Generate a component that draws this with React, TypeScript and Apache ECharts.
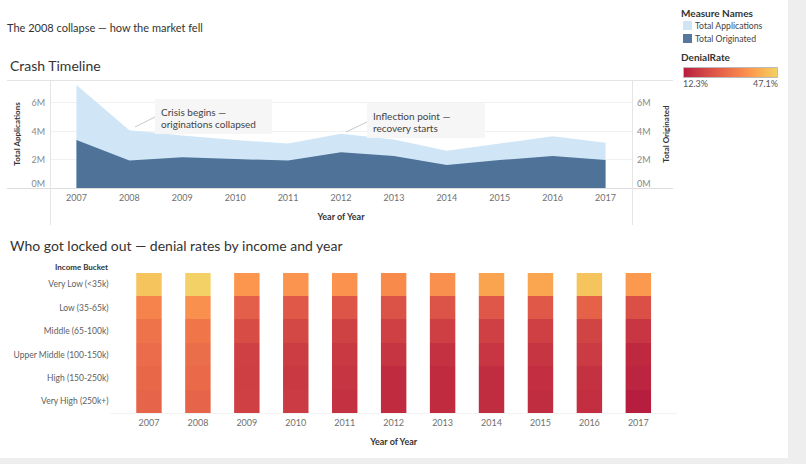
import React, { useEffect, useRef } from "react";
import * as echarts from "echarts";

const years = ["2007", "2008", "2009", "2010", "2011", "2012", "2013", "2014", "2015", "2016", "2017"];
// millions
const totalApplications = [7.25, 4.06, 3.69, 3.37, 3.14, 3.81, 3.41, 2.62, 3.13, 3.64, 3.18];
const totalOriginated = [3.37, 1.93, 2.16, 2.04, 1.93, 2.51, 2.25, 1.62, 1.97, 2.25, 1.97];
const yTickValues = [0, 2, 4, 6];

const incomeBuckets = [
  "Very Low (<35k)",
  "Low (35-65k)",
  "Middle (65-100k)",
  "Upper Middle (100-150k)",
  "High (150-250k)",
  "Very High (250k+)",
];
// denial rate (%) per bucket, by year
const veryLowRates = [44.7, 47.1, 36.7, 36.3, 36.0, 34.6, 35.6, 39.1, 39.4, 44.7, 37.4];
const lowRates = [33.2, 35.6, 25.5, 24.1, 23.4, 22.7, 23.1, 23.8, 24.1, 26.2, 22.4];
const middleRates = [29.7, 30.4, 21.7, 20.3, 19.3, 18.9, 18.6, 18.9, 18.9, 19.6, 16.8];
const upperMiddleRates = [28.3, 28.7, 18.9, 18.2, 17.5, 16.5, 15.8, 16.8, 16.5, 17.9, 14.4];
const highRates = [27.3, 27.6, 18.6, 17.5, 16.5, 14.7, 14.7, 15.1, 15.4, 15.8, 13.7];
const veryHighRates = [26.6, 26.6, 18.9, 17.9, 15.8, 14.7, 14.7, 15.1, 15.1, 15.4, 12.3];
const rateRows = [veryLowRates, lowRates, middleRates, upperMiddleRates, highRates, veryHighRates];
const rateMin = 12.3;
const rateMax = 47.1;

const redGold = ["#b71d3e", "#c43141", "#cf4244", "#db5247", "#e56249", "#ee734a", "#f6834b", "#fc964e", "#f9aa51", "#f6be59", "#f4d166"];

const FONT = 'Lato, "Noto Sans", sans-serif';

export default function App() {
  const ref = useRef<HTMLDivElement>(null);
  useEffect(() => {
    const chart = echarts.init(ref.current!, null, { renderer: "svg" });
    const heatData: number[][] = [];
    rateRows.forEach((row, yi) => row.forEach((v, xi) => heatData.push([xi, yi, v])));

    const txt = (x: number, y: number, text: string, size: number, opts: any = {}) => ({
      type: "text",
      x,
      y,
      z: 100,
      silent: true,
      style: {
        text,
        fill: opts.fill || "#333",
        fontSize: size,
        fontFamily: FONT,
        fontWeight: opts.bold ? "bold" : "normal",
        textAlign: opts.align || "left",
        textVerticalAlign: "middle",
      },
    });
    const ln = (x1: number, y1: number, x2: number, y2: number, color: string) => ({
      type: "line",
      silent: true,
      z: 100,
      shape: { x1, y1, x2, y2 },
      style: { stroke: color, lineWidth: 1 },
    });

    const axisLabelBase = { color: "#707070", fontSize: 9, margin: 5, fontFamily: FONT };
    const axisNameStyle = { color: "#333", fontSize: 9, fontWeight: "bold", fontFamily: FONT };

    const option: any = {
      animation: false,
      backgroundColor: "#ffffff",
      textStyle: { fontFamily: FONT },
      grid: [
        { left: 50, top: 80, width: 582, height: 108, outerBoundsMode: "none", containLabel: false },
        { left: 124.5, top: 272.7, width: 538.3, height: 140.3, outerBoundsMode: "none", containLabel: false },
      ],
      xAxis: [
        {
          type: "category",
          gridIndex: 0,
          data: years,
          boundaryGap: true,
          axisLine: { show: false },
          axisTick: { show: false },
          axisLabel: axisLabelBase,
          name: "Year of Year",
          nameLocation: "middle",
          nameGap: 24,
          nameTextStyle: axisNameStyle,
        },
        {
          type: "category",
          gridIndex: 1,
          data: years,
          axisLine: { show: false },
          axisTick: { show: false },
          axisLabel: axisLabelBase,
          name: "Year of Year",
          nameLocation: "middle",
          nameGap: 24,
          nameTextStyle: axisNameStyle,
        },
      ],
      yAxis: [
        {
          type: "value",
          gridIndex: 0,
          min: yTickValues[0],
          max: 7.6,
          interval: 2,
          axisLine: { show: false },
          axisTick: { show: false },
          splitLine: { show: true, lineStyle: { color: "#f1f1f1" } },
          axisLabel: {
            color: "#888",
            fontSize: 9,
            margin: 5,
            showMaxLabel: false,
            verticalAlignMinLabel: "bottom",
            formatter: (v: number) => `${v}M`,
          },
          name: "Total Applications",
          nameLocation: "middle",
          nameRotate: 90,
          nameGap: 29,
          nameTextStyle: { ...axisNameStyle, fontSize: 8 },
        },
        {
          type: "value",
          gridIndex: 0,
          position: "right",
          min: yTickValues[0],
          max: 7.6,
          interval: 2,
          axisLine: { show: false },
          axisTick: { show: false },
          splitLine: { show: false },
          axisLabel: {
            color: "#888",
            fontSize: 9,
            margin: 5,
            showMaxLabel: false,
            verticalAlignMinLabel: "bottom",
            formatter: (v: number) => `${v}M`,
          },
          name: "Total Originated",
          nameLocation: "middle",
          nameRotate: 90,
          nameGap: 30,
          nameTextStyle: { ...axisNameStyle, fontSize: 8 },
        },
        {
          type: "category",
          gridIndex: 1,
          data: incomeBuckets,
          inverse: true,
          axisLine: { show: false },
          axisTick: { show: false },
          axisLabel: { color: "#606060", fontSize: 8.5, margin: 16, fontFamily: FONT },
        },
      ],
      visualMap: {
        show: false,
        type: "continuous",
        min: rateMin,
        max: rateMax,
        dimension: 2,
        seriesIndex: 2,
        inRange: { color: redGold },
      },
      series: [
        {
          type: "line",
          name: "Total Applications",
          xAxisIndex: 0,
          yAxisIndex: 0,
          data: totalApplications,
          symbol: "none",
          lineStyle: { width: 0 },
          areaStyle: { color: "#d0e6f6", opacity: 1 },
          z: 2,
        },
        {
          type: "line",
          name: "Total Originated",
          xAxisIndex: 0,
          yAxisIndex: 1,
          data: totalOriginated,
          symbol: "none",
          lineStyle: { width: 0 },
          areaStyle: { color: "#4e7298", opacity: 1 },
          z: 3,
        },
        {
          type: "custom",
          xAxisIndex: 1,
          yAxisIndex: 2,
          data: heatData,
          encode: { x: 0, y: 1 },
          renderItem: (params: any, api: any) => {
            const c = api.coord([api.value(0), api.value(1)]);
            const bw = api.size([1, 0])[0];
            const bh = api.size([0, 1])[1];
            const w = bw * 0.52;
            const y0 = Math.round(c[1] - bh / 2);
            const y1 = Math.round(c[1] + bh / 2);
            return {
              type: "rect",
              shape: { x: c[0] - w / 2, y: y0, width: w, height: y1 - y0 },
              style: { fill: api.visual("color") },
            };
          },
        },
      ],
      graphic: [
        { type: "rect", silent: true, shape: { x: 788, y: 0, width: 18, height: 464 }, style: { fill: "#eeeeee" } },
        { type: "rect", silent: true, shape: { x: 0, y: 458, width: 788, height: 6 }, style: { fill: "#eeeeee" } },
        txt(7, 27, "The 2008 collapse \u2014 how the market fell", 11, { fill: "#333" }),
        txt(10, 65, "Crash Timeline", 14, { fill: "#333" }),
        txt(10, 245, "Who got locked out \u2014 denial rates by income and year", 14, { fill: "#333" }),
        txt(108, 267, "Income Bucket", 8, { bold: true, align: "right", fill: "#333" }),
        ln(7, 80.5, 673, 80.5, "#e4e4e4"),
        ln(7, 188.5, 673, 188.5, "#dddddd"),
        ln(50.5, 80, 50.5, 225, "#e4e4e4"),
        ln(632.5, 80, 632.5, 225, "#e4e4e4"),
        ln(110, 413.5, 677, 413.5, "#f3f3f3"),
        // annotations
        { type: "rect", silent: true, z: 99, shape: { x: 155, y: 99, width: 117, height: 35 }, style: { fill: "#f6f6f6" } },
        ln(135, 127, 155, 117, "#c8c8c8"),
        txt(161, 111.7, "Crisis begins \u2014", 10, { fill: "#444" }),
        txt(161, 124, "originations collapsed", 10, { fill: "#444" }),
        { type: "rect", silent: true, z: 99, shape: { x: 367, y: 103, width: 118, height: 35 }, style: { fill: "#f6f6f6" } },
        ln(346, 132, 367, 122, "#c8c8c8"),
        txt(373, 115.5, "Inflection point \u2014", 10, { fill: "#444" }),
        txt(373, 128, "recovery starts", 10, { fill: "#444" }),
        // legend
        txt(681, 13, "Measure Names", 10, { bold: true }),
        { type: "rect", silent: true, shape: { x: 683, y: 21, width: 9, height: 9 }, style: { fill: "#cfe5f6" } },
        txt(695, 25.5, "Total Applications", 8.7, { fill: "#444" }),
        { type: "rect", silent: true, shape: { x: 683, y: 34, width: 9, height: 9 }, style: { fill: "#57779e" } },
        txt(695, 38.5, "Total Originated", 8.7, { fill: "#444" }),
        txt(681, 57, "DenialRate", 10, { bold: true }),
        {
          type: "rect",
          silent: true,
          shape: { x: 683.5, y: 67.5, width: 94, height: 10 },
          style: {
            stroke: "#bbbbbb",
            lineWidth: 1,
            fill: {
              type: "linear",
              x: 0,
              y: 0,
              x2: 1,
              y2: 0,
              colorStops: redGold.map((c, i) => ({ offset: i / (redGold.length - 1), color: c })),
            },
          },
        },
        txt(683, 83, `${rateMin}%`, 9, { fill: "#555" }),
        txt(778, 83, `${rateMax}%`, 9, { fill: "#555", align: "right" }),
      ],
    };
    chart.setOption(option);
    return () => chart.dispose();
  }, []);
  return (
    <div
      ref={ref}
      style={{ position: "fixed", left: 0, top: 0, width: 806, height: 464 }}
    />
  );
}
